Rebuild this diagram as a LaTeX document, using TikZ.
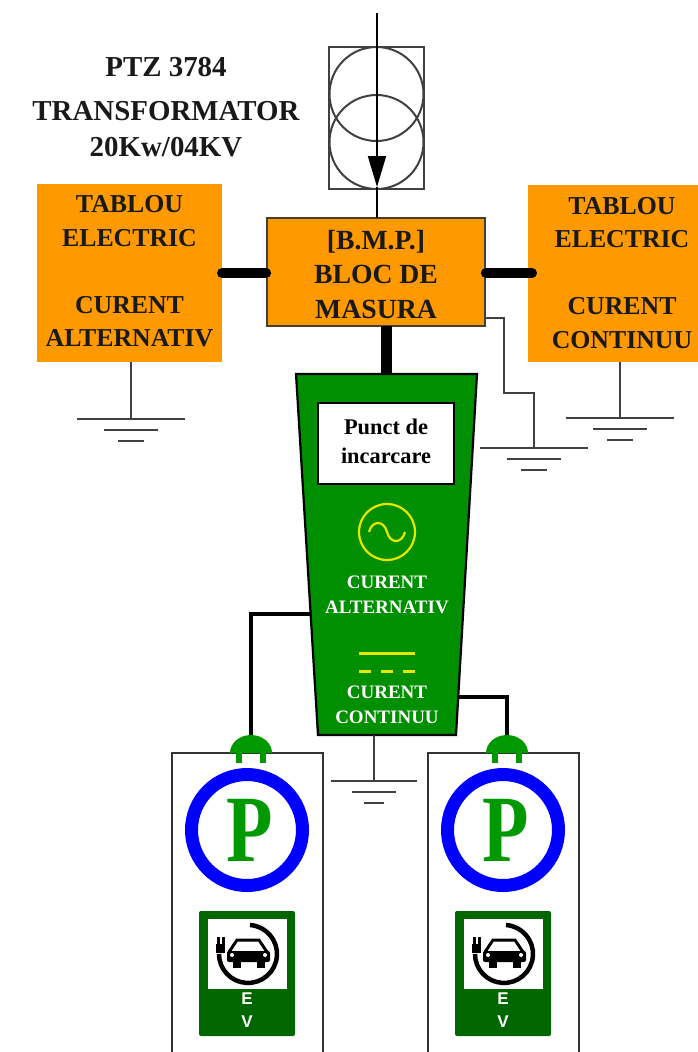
\documentclass[tikz,border=0pt]{standalone}
\usepackage{fontspec}
\setmainfont{Liberation Serif}
\newfontfamily\signfont{Liberation Sans}
\usetikzlibrary{calc,arrows.meta}
\definecolor{MeterOrange}{HTML}{FF9900}
\definecolor{PointGreen}{HTML}{008F00}
\definecolor{PlugGreen}{HTML}{009900}
\definecolor{SignGreen}{HTML}{006600}
\definecolor{RingBlue}{HTML}{0000FF}
\definecolor{WaveYellow}{HTML}{E6E600}
\definecolor{WireGray}{HTML}{404040}
\tikzset{
    panel/.style = {fill=MeterOrange, inner sep=0pt, align=center, text=black!90,
        font=\fontsize{25.8}{33.5}\selectfont\bfseries},
    heading/.style = {inner sep=0pt, text=black!90, font=\fontsize{28.9}{30}\selectfont\bfseries},
    acdc/.style = {inner sep=0pt, text=white, font=\fontsize{19}{25}\selectfont\bfseries, align=center},
    busbar/.style = {draw, line width=10pt, line cap=round},
    feeder/.style = {draw, line width=3.5pt},
    earth/.style = {draw=WireGray, line width=2.2pt},
    ground/.pic = {
        \draw[earth] (-54,0) -- (54,0);
        \draw[earth] (-27,11) -- (27,11);
        \draw[earth] (-13,22) -- (13,22);
    }
}
\begin{document}
\begin{tikzpicture}[x=1pt,y=-1pt]
    \useasboundingbox (0,0) rectangle (697,1052);
    % transformer
    \node[draw=WireGray, line width=2pt, minimum width=95pt, minimum height=142pt, inner sep=0pt] (trafo) at (376.5,118) {};
    \draw[WireGray, line width=2pt] (376.5,94) circle (47);
    \draw[WireGray, line width=2pt] (376.5,142) circle (47);
    \node[heading] (titlea) at (166,67) {PTZ 3784};
    \node[heading] (titleb) at (166,111) {TRANSFORMATOR};
    \node[heading] (titlec) at (166,147) {20Kw/04KV};
    % panels
    \node[panel, minimum width=185pt, minimum height=178pt] (tabac) at (129.5,273) {TABLOU\\ELECTRIC\\~\\CURENT\\ALTERNATIV\rule[-4pt]{0pt}{1pt}};
    \node[panel, minimum width=188pt, minimum height=177pt] (tabdc) at (622,273) {TABLOU\\ELECTRIC\\~\\CURENT\\CONTINUU};
    \node[panel, draw=WireGray, line width=1.7pt, minimum width=218pt, minimum height=108pt, font=\fontsize{27.7}{34.5}\selectfont\bfseries] (bmp) at (376,272) {\rule{0pt}{24pt}[B.M.P.]\\BLOC DE\\MASURA};
    \coordinate (linein) at (377,13);
    \coordinate (linetip) at (377,187);
    \draw[line width=1.7pt, -{Triangle[length=31pt,width=18pt]}] (linein) -- (linetip);
    \draw[line width=1.7pt] (linetip) -- (377,218);
    % busbars
    \coordinate (busleft) at (222,273);
    \coordinate (busright) at (532,273);
    \draw[busbar] (busleft) -- (busleft -| bmp.west);
    \draw[busbar] (bmp.east |- busright) -- (busright);
    \coordinate (busdown) at (386,326);
    \coordinate (buspoint) at (386,374);
    \draw[draw, line width=11pt] (busdown) -- (buspoint);
    % charging point
    \coordinate (pointbase) at (387,735);
    \draw[draw=black, line width=2.2pt, fill=PointGreen] (296,374) -- (477,374) -- (456,735) -- (318,735) -- cycle;
    \node[draw=black, line width=2.2pt, fill=white, minimum width=136pt, minimum height=81pt, inner sep=0pt, align=center,
        font=\fontsize{22.4}{29}\selectfont\bfseries] (pointbox) at (386,443.5) {Punct de\\incarcare\rule[-5pt]{0pt}{1pt}};
    \node[draw=WaveYellow, line width=2.2pt, circle, minimum size=56pt, inner sep=0pt] (acsign) at (387,532) {};
    \draw[WaveYellow, line width=2.2pt] (369,532) .. controls (372,520) and (384,520) .. (387,532) .. controls (390,544) and (402,544) .. (405,532);
    \node[acdc] (aclabel) at (387,594.5) {CURENT\\ALTERNATIV};
    \node[acdc] (dclabel) at (387,704.5) {CURENT\\CONTINUU};
    \draw[WaveYellow, line width=3pt] (359,653) -- (415,653);
    \draw[WaveYellow, line width=3pt, dash pattern=on 12pt off 10pt] (359,671) -- (415,671);
    % stations
    \foreach \side/\dx/\px in {l/0/251,r/256/507}{
        \begin{scope}[xshift=\dx pt]
            \draw[black!80, line width=2pt] (172,1052) -- (172,753) -- (322.5,753) -- (322.5,1052);
            \draw[RingBlue, line width=13pt] (247,830) circle (55.5);
            \node[inner sep=0pt, text=PlugGreen, font=\fontsize{95}{95}\selectfont\bfseries] (park\side) at (250,830) {\scalebox{.8}[1]{P}};
            \node[fill=SignGreen, rounded corners=2pt, minimum width=96pt, minimum height=125pt, inner sep=0pt] (sign\side) at (247,973.5) {};
            \node[fill=white, minimum width=79pt, minimum height=70pt, inner sep=0pt] (signbox\side) at (247.5,954) {};
            \node[inner sep=0pt, text=white, font=\fontsize{17}{17}\selectfont\bfseries\signfont] (signe\side) at (247,999) {E};
            \node[inner sep=0pt, text=white, font=\fontsize{17}{17}\selectfont\bfseries\signfont] (signv\side) at (247,1022) {V};
            % car
            \draw[line width=4.5pt] (250,925) arc[start angle=-86, end angle=180, radius=29];
            \draw[line width=3pt] (229,952) -- (237,940) -- (259,940) -- (267,952);
            \fill[rounded corners=2pt] (227,951) rectangle (270,962);
            \fill (233,960) rectangle (241,968);
            \fill (257,960) rectangle (265,968);
            \fill[white] (232,955) circle (2);
            \fill[white] (265,955) circle (2);
            \fill (216,944) rectangle (225,953);
            \fill (216.5,937) rectangle (219.5,945);
            \fill (221.5,937) rectangle (224.5,945);
        \end{scope}
        \coordinate (plug\side) at (\px,735);
        \fill[PlugGreen] (\px-21,753) arc[start angle=180, end angle=360, x radius=21, y radius=18] -- cycle;
        \fill[PlugGreen] (\px-15,753) rectangle (\px-9,763);
        \fill[PlugGreen] (\px+9,753) rectangle (\px+15,763);
    }
    % feeders
    \coordinate (acport) at (311,614);
    \coordinate (dcport) at (458,697);
    \draw[feeder] (acport) -| (plugl);
    \draw[feeder] (dcport) -| (plugr);
    % earth
    \coordinate (gndac) at (131,419);
    \coordinate (gnddc) at (620,418);
    \coordinate (gndbmp) at (534,448);
    \coordinate (gndpoint) at (374,781);
    \coordinate (bmptap) at (485,318);
    \draw[earth] (tabac.south -| gndac) -- (gndac);
    \draw[earth] (tabdc.south -| gnddc) -- (gnddc);
    \draw[earth] (pointbase -| gndpoint) -- (gndpoint);
    \draw[earth] (bmptap) -- (504,318) -- (504,393) -- (534,393) -- (gndbmp);
    \pic at (gndac) {ground};
    \pic at (gnddc) {ground};
    \pic at (gndbmp) {ground};
    \pic[xscale=.8] at (gndpoint) {ground};
\end{tikzpicture}
\end{document}
